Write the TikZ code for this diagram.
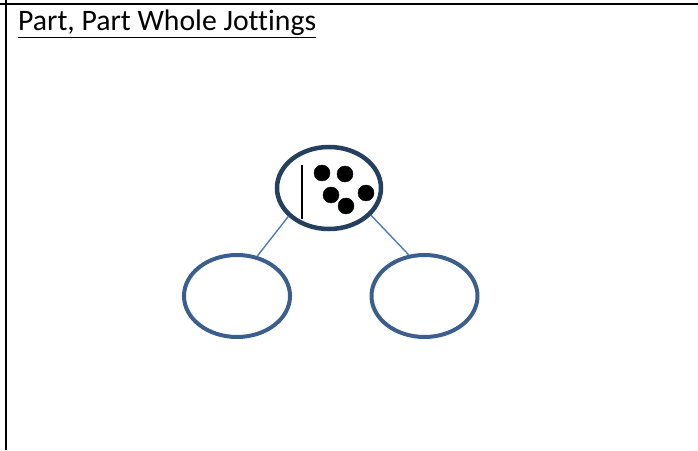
\documentclass[tikz,border=0pt]{standalone}
\usepackage{fontspec}
\setmainfont{Carlito}[Ligatures=NoCommon]
\usetikzlibrary{shapes.geometric}

\definecolor{wholeblue}{HTML}{243F60}
\definecolor{partblue}{HTML}{3A5F8F}
\definecolor{linkblue}{HTML}{4A7EBB}

\tikzset{
    whole/.style={ellipse, draw=wholeblue, line width=4.5pt, minimum width=104pt, minimum height=82pt, inner sep=0pt},
    part/.style={ellipse, draw=partblue, line width=4pt, minimum width=106pt, minimum height=82pt, inner sep=0pt},
    link/.style={draw=linkblue, line width=1.4pt}
}

\begin{document}
\begin{tikzpicture}[x=1pt,y=1pt]

    \useasboundingbox (0,0) rectangle (698,450);

    \draw[line width=2pt] (0,446) -- (698,446);
    \draw[line width=2pt] (5.5,0) -- (5.5,450);

	\node[anchor=base west, inner sep=0pt, font=\fontsize{29.7}{34}\selectfont] (title) at (18,419) {\underline{Part, Part Whole Jottings}};

    \node[whole] (W) at (329,262) {};
    \node[part] (P1) at (237,154) {};
    \node[part] (P2) at (424.5,154) {};

    \draw[line width=1.8pt,black] (302,285) -- (302,231);
    \foreach \px/\py in {322/277, 345/276, 331/255, 366/257, 346/244}
        \filldraw[black] (\px,\py) circle (8pt);

    \draw[link] (W.215) -- (P1.63);
    \draw[link] (W.327) -- (P2.111);

\end{tikzpicture}
\end{document}
